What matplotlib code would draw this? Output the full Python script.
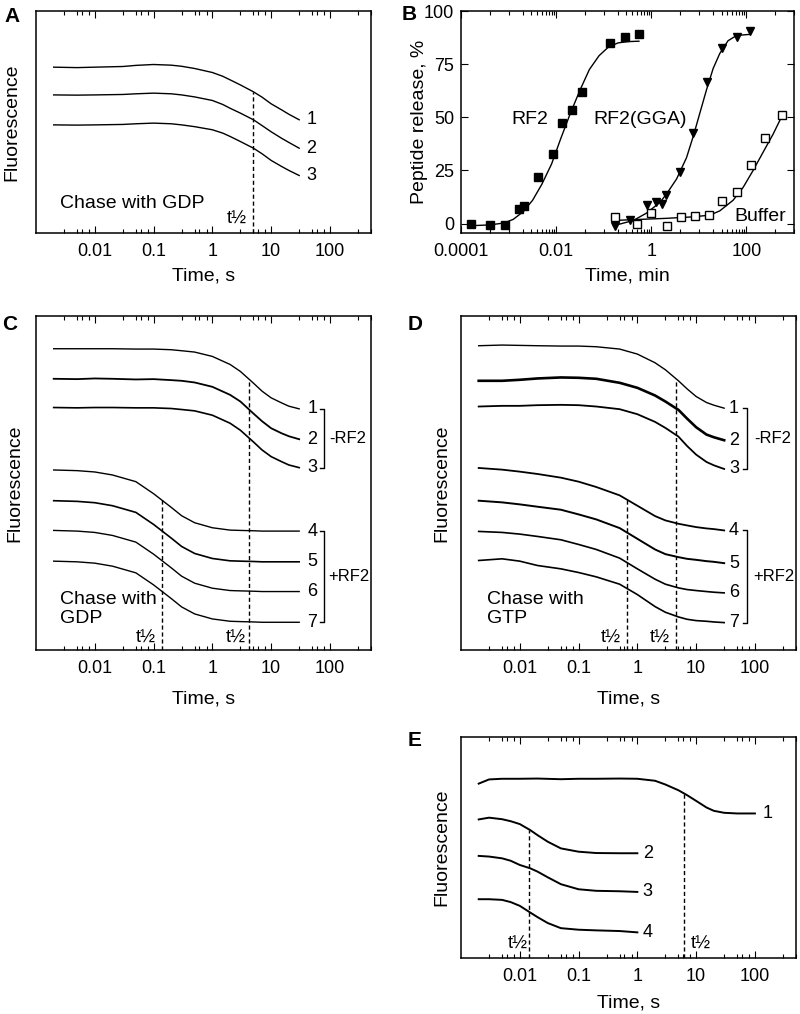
import matplotlib
matplotlib.use('Agg')
import matplotlib.pyplot as plt
from matplotlib.ticker import FixedLocator, NullFormatter, FixedFormatter
import numpy as np

plt.rcParams['font.family'] = ['Liberation Sans', 'DejaVu Sans']

# ---------------- data ----------------
# panel A: chase with GDP (fluorescence, a.u.)
times_a = [0.002, 0.005, 0.01, 0.03, 0.05, 0.1, 0.2, 0.3, 0.5, 1, 1.5, 2, 3, 5, 7, 10, 15, 20, 30]
a1 = [74.7, 74.5, 74.7, 75.0, 75.5, 75.9, 75.6, 75.1, 74.1, 72.3, 70.6, 69.0, 66.7, 63.6, 61.2, 58.2, 55.5, 53.5, 51.0]
a2 = [62.2, 62.1, 62.2, 62.4, 62.7, 63.0, 62.7, 62.2, 61.3, 59.7, 57.9, 56.2, 54.0, 51.0, 48.4, 45.6, 42.7, 40.8, 38.2]
a3 = [48.7, 48.6, 48.7, 48.9, 49.2, 49.5, 49.2, 48.7, 47.9, 46.5, 45.0, 43.5, 41.2, 38.2, 35.7, 32.7, 30.0, 28.2, 25.9]
thalf_a = 5.0

# panel B: peptide release (%)
rf2_t = [1.63e-4, 4.1e-4, 8.5e-4, 1.63e-3, 2.07e-3, 4.1e-3, 8.4e-3, 0.0131, 0.0213, 0.0347, 0.136, 0.28, 0.55]
rf2_y = [0, -0.5, -0.8, 6.9, 8.1, 21.8, 32.7, 47.3, 53.5, 61.7, 84.8, 87.6, 89.0]
rf2_fit_t = [1.5e-4, 4e-4, 8e-4, 1.25e-3, 2e-3, 3.2e-3, 5e-3, 8e-3, 0.0125, 0.02, 0.032, 0.05, 0.08, 0.125, 0.2, 0.32, 0.55]
rf2_fit_y = [-1.0, -0.6, 0.3, 2.0, 5.5, 11.0, 18.5, 28.0, 40.0, 52.0, 63.0, 72.5, 79.0, 83.0, 85.0, 85.6, 85.8]
gga_t = [0.173, 0.356, 0.80, 1.25, 1.65, 2.0, 4.0, 7.4, 15, 30, 62, 117]
gga_y = [-1.3, 1.9, 8.9, 10.2, 9.4, 13.6, 24.3, 42.6, 66.8, 82.5, 87.6, 90.8]
gga_fit_t = [0.16, 0.42, 0.8, 1.52, 2.1, 3.4, 5.5, 7.6, 10.5, 14.5, 20, 27.5, 41, 62, 117]
gga_fit_y = [-1.0, 1.5, 5.0, 10.0, 14.0, 21.0, 31.0, 41.0, 52.0, 63.0, 73.0, 80.0, 86.0, 88.5, 89.0]
buf_t = [0.173, 0.51, 1.0, 2.1, 4.2, 8.4, 16.5, 30, 63, 122, 250, 570]
buf_y = [3.1, 0.0, 5.0, -1.25, 3.1, 3.8, 4.2, 10.5, 14.7, 27.4, 40.2, 51.2]
buf_fit_t = [0.16, 0.58, 2.1, 7.6, 17, 27.5, 52.5, 85, 138, 223, 362, 570]
buf_fit_y = [1.5, 2.0, 2.5, 3.2, 4.0, 6.0, 11.0, 17.0, 25.0, 33.5, 42.0, 51.0]

# panel C: chase with GDP, -RF2 (1-3) / +RF2 (4-7)
times_c = [0.002, 0.005, 0.01, 0.02, 0.05, 0.1, 0.2, 0.3, 0.5, 1, 2, 3, 5, 7, 10, 15, 20, 30]
c1 = [90.2, 90.2, 90.2, 90.2, 90.1, 90.1, 89.9, 89.6, 89.2, 87.9, 85.5, 83.4, 79.9, 77.5, 75.5, 74.0, 73.0, 72.2]
c2 = [81.2, 81.1, 81.3, 81.2, 81.0, 81.1, 80.8, 80.6, 80.1, 78.8, 76.4, 74.4, 70.8, 68.5, 66.4, 64.9, 64.0, 63.1]
c3 = [72.6, 72.5, 72.6, 72.6, 72.5, 72.5, 72.3, 72.0, 71.6, 70.3, 67.9, 65.8, 62.3, 59.9, 57.9, 56.4, 55.4, 54.6]
c4 = [53.9, 53.7, 53.3, 52.4, 50.4, 46.8, 42.7, 40.2, 38.1, 36.6, 35.9, 35.8, 35.7, 35.6, 35.6, 35.6, 35.6, 35.6]
c5 = [44.7, 44.5, 44.1, 43.2, 41.2, 37.6, 33.5, 31.0, 28.9, 27.4, 26.7, 26.6, 26.5, 26.4, 26.4, 26.4, 26.4, 26.4]
c6 = [35.8, 35.6, 35.2, 34.3, 32.3, 28.7, 24.6, 22.1, 20.0, 18.5, 17.8, 17.7, 17.6, 17.5, 17.5, 17.5, 17.5, 17.5]
c7 = [26.6, 26.4, 26.0, 25.1, 23.1, 19.5, 15.4, 12.9, 10.8, 9.3, 8.6, 8.5, 8.4, 8.3, 8.3, 8.3, 8.3, 8.3]
thalf_c = [0.14, 4.2]

# panel D: chase with GTP
times_d = [0.002, 0.005, 0.01, 0.02, 0.05, 0.1, 0.2, 0.5, 1, 2, 3, 5, 7, 10, 15, 20, 30]
d1 = [91.1, 91.3, 91.2, 91.1, 91.0, 91.0, 90.8, 90.1, 88.6, 86.0, 83.9, 80.6, 78.2, 75.9, 74.1, 73.3, 72.4]
d2 = [80.6, 80.6, 80.9, 81.3, 81.6, 81.5, 81.2, 80.0, 78.5, 76.2, 74.4, 71.9, 69.3, 66.7, 64.5, 63.7, 62.8]
d3 = [72.9, 73.1, 73.1, 73.3, 73.4, 73.3, 72.9, 72.1, 70.6, 68.3, 66.5, 63.9, 61.1, 58.5, 56.3, 55.3, 54.2]
d4 = [54.5, 54.0, 53.4, 52.7, 51.6, 50.4, 48.8, 46.3, 43.2, 40.1, 38.8, 37.8, 37.3, 36.8, 36.4, 36.2, 35.8]
d5 = [44.7, 44.2, 43.6, 42.9, 42.0, 40.6, 39.1, 36.5, 33.3, 30.1, 28.7, 27.8, 27.3, 27.0, 26.6, 26.4, 26.0]
d6 = [35.5, 35.2, 34.7, 34.0, 33.0, 31.6, 30.1, 27.5, 24.3, 21.2, 19.7, 18.6, 18.1, 17.8, 17.5, 17.3, 17.1]
d7 = [26.8, 27.3, 26.6, 25.3, 24.3, 23.2, 21.9, 19.7, 16.6, 13.0, 11.3, 9.9, 9.2, 8.8, 8.6, 8.4, 8.2]
thalf_d = [0.67, 4.6]

# panel E
times_e1 = [0.002, 0.003, 0.005, 0.01, 0.02, 0.05, 0.1, 0.2, 0.5, 1, 2, 3, 5, 7, 10, 15, 20, 30, 50, 100]
e1 = [78.9, 80.8, 81.1, 81.1, 81.2, 80.9, 81.1, 81.1, 81.2, 81.1, 80.2, 78.5, 75.9, 73.7, 71.1, 68.1, 66.6, 65.7, 65.4, 65.4]
times_e2 = [0.002, 0.003, 0.005, 0.007, 0.01, 0.015, 0.02, 0.03, 0.05, 0.1, 0.2, 0.5, 1]
e2 = [62.7, 63.5, 62.8, 61.9, 60.6, 57.9, 55.6, 52.6, 49.6, 48.1, 47.5, 47.4, 47.4]
e3 = [46.2, 45.9, 45.1, 44.0, 42.1, 40.6, 39.1, 36.5, 33.4, 31.1, 30.4, 30.2, 29.9]
e4 = [26.6, 26.6, 26.3, 25.3, 23.6, 20.6, 18.5, 15.8, 13.5, 12.8, 12.5, 12.2, 11.6]
thalf_e = [0.0146, 6.2]

time_ticks = [0.01, 0.1, 1, 10, 100]
time_labels = ['0.01', '0.1', '1', '10', '100']
b_ticks = [1e-4, 1e-2, 1, 100]
b_labels = ['0.0001', '0.01', '1', '100']

# ---------------- figure ----------------
W, H = 800, 1014
fig = plt.figure(figsize=(W / 100, H / 100), dpi=100)


def make_axes(l, t, r, b):
    return fig.add_axes([l / W, 1 - b / H, (r - l) / W, (b - t) / H])


def frame(ax):
    for s in ax.spines.values():
        s.set_linewidth(1.1)
    ax.tick_params(which='both', direction='in', top=True, width=0.8, labelsize=13, pad=5)
    ax.tick_params(axis='x', which='both', pad=7)
    ax.tick_params(which='major', length=5)
    ax.tick_params(which='minor', length=3)


def time_axis(ax, ylab_x, xlab_y):
    ax.set_xscale('log')
    ax.set_xlim(0.001, 500)
    ax.set_ylim(0, 100)
    ax.xaxis.set_major_locator(FixedLocator(time_ticks))
    ax.xaxis.set_major_formatter(FixedFormatter(time_labels))
    minors = [d * m for d in [0.001, 0.01, 0.1, 1, 10, 100] for m in [3, 5, 6, 8]]
    ax.xaxis.set_minor_locator(FixedLocator(minors))
    ax.xaxis.set_minor_formatter(NullFormatter())
    ax.set_yticks([])
    frame(ax)
    ax.set_xlabel('Time, s', fontsize=14)
    ax.set_ylabel('Fluorescence', fontsize=14)
    ax.yaxis.set_label_coords(ylab_x, 0.5)
    ax.xaxis.set_label_coords(0.5, xlab_y)


def thalf_line(ax, th, t, y):
    top = np.interp(np.log10(th), np.log10(t), y)
    ax.plot([th, th], [0, top], color='k', lw=1.0, ls=(0, (3, 2)))


def bracket(ax, x0, x1, ytop, ybot, label, xl):
    ax.plot([x0, x1, x1, x0], [ytop, ytop, ybot, ybot], color='k', lw=1.0)
    ax.text(xl, (ytop + ybot) / 2, label, fontsize=12, ha='left', va='center')


# ---- A ----
axA = make_axes(36, 11, 371, 233)
for y in [a1, a2, a3]:
    axA.plot(times_a, y, color='k', lw=1.0)
thalf_line(axA, thalf_a, times_a, a1)
for i, y in enumerate([a1, a2, a3]):
    axA.text(48, y[-1], str(i + 1), fontsize=13, ha='center', va='center')
axA.text(0.0026, 13.5, 'Chase with GDP', fontsize=14, ha='left', va='center')
axA.text(thalf_a / 1.3, 6, 't½', fontsize=13, ha='right', va='center')
time_axis(axA, -0.048, -0.156)

# ---- B ----
axB = make_axes(461, 11, 794, 233)
axB.plot(rf2_fit_t, rf2_fit_y, color='k', lw=1.0)
axB.plot(gga_fit_t, gga_fit_y, color='k', lw=1.0)
axB.plot(buf_fit_t, buf_fit_y, color='k', lw=1.0)
axB.plot(rf2_t, rf2_y, 's', color='k', ms=5.5, ls='none')
axB.plot(gga_t, gga_y, 'v', color='k', ms=5.5, ls='none')
axB.plot(buf_t, buf_y, 's', mfc='white', mec='k', mew=1.0, ms=6, ls='none')
axB.set_xscale('log')
axB.set_xlim(1e-4, 1000)
axB.set_ylim(-4.4, 100)
axB.xaxis.set_major_locator(FixedLocator(b_ticks))
axB.xaxis.set_major_formatter(FixedFormatter(b_labels))
bminors = [d * m for d in [1e-4, 1e-2, 1, 100] for m in [4, 10, 20, 30, 40, 50, 60, 70, 80, 90]]
axB.xaxis.set_minor_locator(FixedLocator(bminors))
axB.xaxis.set_minor_formatter(NullFormatter())
axB.set_yticks([0, 25, 50, 75, 100])
frame(axB)
axB.tick_params(which='both', right=True)
axB.set_xlabel('Time, min', fontsize=14)
axB.set_ylabel('Peptide release, %', fontsize=14)
axB.yaxis.set_label_coords(-0.098, 0.5)
axB.xaxis.set_label_coords(0.5, -0.156)
axB.text(2.85e-3, 48.8, 'RF2', fontsize=14, ha='center', va='center')
axB.text(0.58, 48.8, 'RF2(GGA)', fontsize=14, ha='center', va='center')
axB.text(196, 3.4, 'Buffer', fontsize=14, ha='center', va='center')

# ---- C ----
axC = make_axes(36, 316, 371, 650)
curves_c = [c1, c2, c3, c4, c5, c6, c7]
lw_c = [1.0, 1.3, 1.2, 1.0, 1.2, 1.0, 1.0]
for y, lw in zip(curves_c, lw_c):
    axC.plot(times_c, y, color='k', lw=lw)
thalf_line(axC, thalf_c[0], times_c, c4)
thalf_line(axC, thalf_c[1], times_c, c1)
for i, y in enumerate(curves_c):
    axC.text(50, y[-1], str(i + 1), fontsize=13, ha='center', va='center')
bracket(axC, 67, 79, c1[-1], c3[-1], '-RF2', 98)
bracket(axC, 67, 79, c4[-1], c7[-1], '+RF2', 95)
axC.text(0.0026, 12.3, 'Chase with\nGDP', fontsize=14, ha='left', va='center', linespacing=1.1)
axC.text(thalf_c[0] / 1.28, 3.6, 't½', fontsize=13, ha='right', va='center')
axC.text(thalf_c[1] / 1.15, 3.6, 't½', fontsize=13, ha='right', va='center')
time_axis(axC, -0.039, -0.12)

# ---- D ----
axD = make_axes(461, 316, 796, 650)
curves_d = [d1, d2, d3, d4, d5, d6, d7]
lw_d = [1.0, 1.9, 1.3, 1.3, 1.4, 1.2, 1.2]
for y, lw in zip(curves_d, lw_d):
    axD.plot(times_d, y, color='k', lw=lw)
thalf_line(axD, thalf_d[0], times_d, d4)
thalf_line(axD, thalf_d[1], times_d, d1)
for i, y in enumerate(curves_d):
    axD.text(44, y[-1], str(i + 1), fontsize=13, ha='center', va='center')
bracket(axD, 63, 74, d1[-1], d3[-1], '-RF2', 96)
bracket(axD, 63, 74, d4[-1], d7[-1], '+RF2', 92)
axD.text(0.0028, 12.3, 'Chase with\nGTP', fontsize=14, ha='left', va='center', linespacing=1.1)
axD.text(thalf_d[0] / 1.3, 3.6, 't½', fontsize=13, ha='right', va='center')
axD.text(thalf_d[1] / 1.3, 3.6, 't½', fontsize=13, ha='right', va='center')
time_axis(axD, -0.033, -0.12)

# ---- E ----
axE = make_axes(461, 737, 796, 958)
axE.plot(times_e1, e1, color='k', lw=1.4)
for y in [e2, e3, e4]:
    axE.plot(times_e2, y, color='k', lw=1.4)
thalf_line(axE, thalf_e[0], times_e2, e2)
thalf_line(axE, thalf_e[1], times_e1, e1)
axE.text(162, e1[-1], '1', fontsize=13, ha='center', va='center')
for i, y in enumerate([e2, e3, e4]):
    axE.text(1.5, y[-1], str(i + 2), fontsize=13, ha='center', va='center')
axE.text(thalf_e[0] / 1.08, 6, 't½', fontsize=13, ha='right', va='center')
axE.text(thalf_e[1] * 1.29, 6, 't½', fontsize=13, ha='left', va='center')
time_axis(axE, -0.033, -0.165)

# panel letters
for letter, x, y in [('A', 12, 16), ('B', 409, 15), ('C', 10, 324), ('D', 415, 324), ('E', 415, 740)]:
    fig.text(x / W, 1 - y / H, letter, fontsize=15, fontweight='bold', ha='center', va='center')

fig.savefig('out.png', dpi=100)
